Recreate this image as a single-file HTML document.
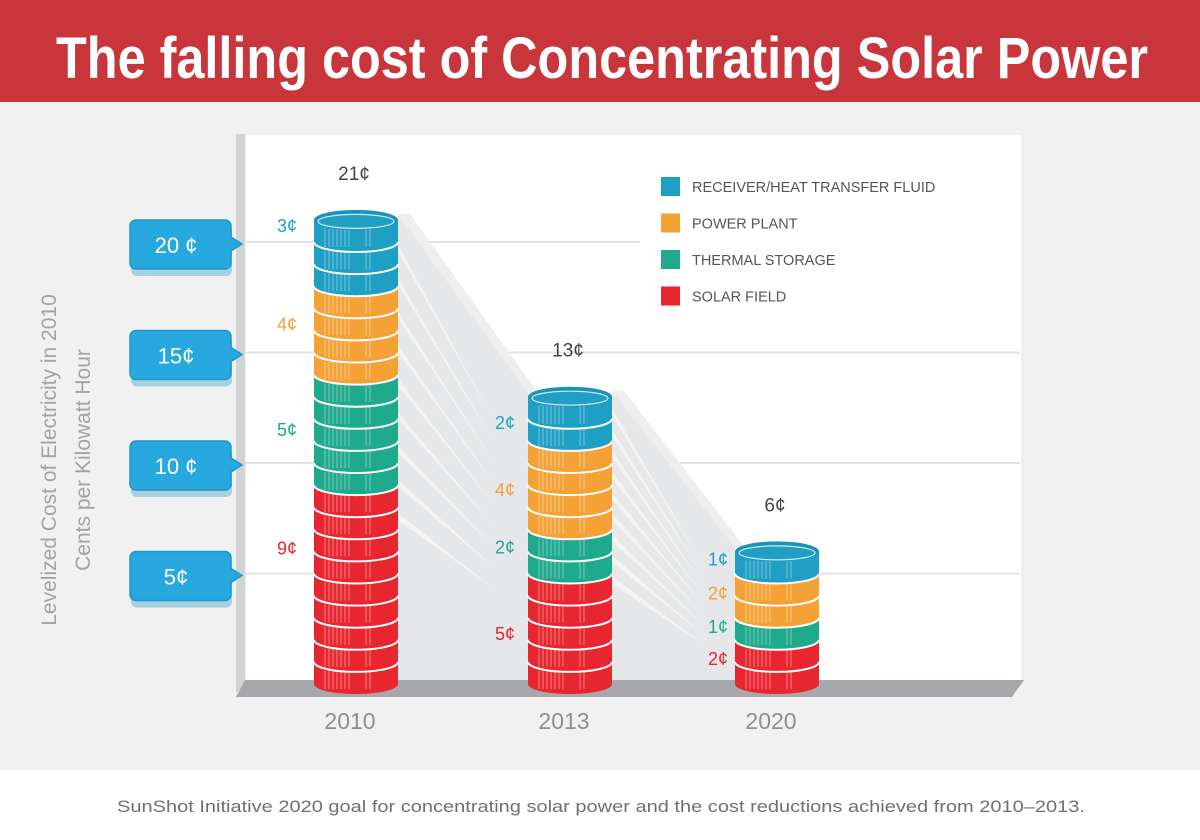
<!DOCTYPE html>
<html><head><meta charset="utf-8"><style>
html,body{margin:0;padding:0;width:1200px;height:840px;overflow:hidden;background:#fff}
text{font-family:"Liberation Sans","DejaVu Sans",sans-serif}
</style></head><body>
<svg id="chart" width="1200" height="840" viewBox="0 0 1200 840" xmlns="http://www.w3.org/2000/svg">
<rect x="0" y="0" width="1200" height="102" fill="#c8363c"/>
<text x="56" y="78" font-size="58" font-weight="bold" fill="#fff" textLength="1092" lengthAdjust="spacingAndGlyphs">The falling cost of Concentrating Solar Power</text>
<rect x="0" y="102" width="1200" height="668" fill="#f1f1f1"/>
<rect x="0" y="770" width="1200" height="70" fill="#fff"/>
<text x="601" y="812" font-size="17" fill="#707070" text-anchor="middle" textLength="968" lengthAdjust="spacingAndGlyphs">SunShot Initiative 2020 goal for concentrating solar power and the cost reductions achieved from 2010–2013.</text>
<rect x="245" y="134" width="777" height="550" fill="#fff" stroke="#e4e4e4"/>
<polygon points="236,134 245,134 245,684 236,694" fill="#d2d3d5"/>
<g id="grid"></g>
<g id="shadows"></g>
<polygon points="245,680 1024,680 1012,697 236,697" fill="#a7a8ab"/>
<g id="stacks"></g>
<g id="callouts"></g>
<g id="legend"></g>
<text transform="translate(56,460) rotate(-90)" font-size="21" fill="#a3a3a3" text-anchor="middle">Levelized Cost of Electricity in 2010</text>
<text transform="translate(90,460) rotate(-90)" font-size="21" fill="#a3a3a3" text-anchor="middle">Cents per Kilowatt Hour</text>
</svg>
<script>
const years = ["2010","2013","2020"];
const solarField = [9,5,2];
const thermalStorage = [5,2,1];
const powerPlant = [4,4,2];
const receiver = [3,2,1];
const totals = [21,13,6];
const seriesNames = ["SOLAR FIELD","THERMAL STORAGE","POWER PLANT","RECEIVER/HEAT TRANSFER FLUID"];
const yTicks = [5,10,15,20];
const yTickLabels = ["5¢","10 ¢","15¢","20 ¢"];

const colors = ["#e8262f","#1fa98d","#f4a236","#1f9fc4"];
// style-only pixel nudges for segment label placement [year][series]
const labelNudge = [[-36,0,-6,-27],[5,-4,5,4],[-3,-2,-2,-3]];
const NS="http://www.w3.org/2000/svg";
const Y0=684, PX=22.1;
function y(v){return Y0-v*PX;}
const xCenters=[356,570,777];
function x(i){return xCenters[i];}
function mk(tag,attrs,parent){const e=document.createElementNS(NS,tag);for(const k in attrs)e.setAttribute(k,attrs[k]);parent.appendChild(e);return e;}
const grid=document.getElementById('grid'),sh=document.getElementById('shadows'),st=document.getElementById('stacks'),co=document.getElementById('callouts'),lg=document.getElementById('legend');

yTicks.forEach((t,i)=>{
  const l=mk('line',{x1:245,x2:t===20?640:1020,y1:y(t),y2:y(t),stroke:'#e3e3e3','stroke-width':2},grid);
  
  
  const g=mk('g',{},co);
  
  
  const cy=y(t)+3;
  mk('rect',{x:130,y:cy-22,width:101,height:50,rx:6,fill:'#1b8fbd',opacity:0.35,transform:'translate(1,3)'},g);
  mk('path',{d:`M136,${cy-25} h89 a6,6 0 0 1 6,6 v11 l11,7 l-11,7 v12 a6,6 0 0 1 -6,6 h-89 a6,6 0 0 1 -6,-6 v-37 a6,6 0 0 1 6,-6z`,fill:'#27a9df',stroke:'#1d97c9','stroke-width':1.5},g);
  const tx=mk('text',{x:176,y:cy+8,'font-size':22,fill:'#fff','text-anchor':'middle'},g);
  tx.textContent=yTickLabels[i];
});

const R=42, RY=10;
for(let i=0;i<years.length-1;i++){
  const x1=x(i)+R, x2=x(i+1)-R, ya=y(totals[i])-6, yb=y(totals[i+1])-4;
  const p=mk('polygon',{points:`${x1},${ya} ${x2},${yb} ${x2},${Y0} ${x1},${Y0}`,fill:'#e6e7e8'},sh);
  
  
  mk('polygon',{points:`${x1},${ya} ${x1+12},${ya} ${x2+10},${yb} ${x2},${yb}`,fill:'#eeeeef'},sh);
  for(let k=1;k<=9;k++){
    const sy=ya+k*(Y0-ya)/14, ey=yb+k*(Y0-yb)/14+10;
    mk('polygon',{points:`${x1},${sy-3} ${x1+(x2-x1)*0.75},${ey} ${x1},${sy+4}`,fill:'#f4f4f4'},sh);
  }
}

const segs=[solarField,thermalStorage,powerPlant,receiver];
const labX=[297,515,728];
years.forEach((yr,i)=>{
  const g=mk('g',{},st);
  
  
  const cx=x(i);
  let base=0;
  segs.forEach((s,si)=>{
    const sg=mk('g',{},g);
    
    
    for(let c=0;c<s[i];c++){
      const v=base+c, yb=y(v), yt=y(v+1);
      mk('path',{d:`M${cx-R},${yt} V${yb} A${R},${RY} 0 0 0 ${cx+R},${yb} V${yt}Z`,fill:colors[si]},sg);
      for(let k=0;k<7;k++) mk('line',{x1:cx-31+k*4,x2:cx-31+k*4,y1:yt+RY-1,y2:yb+RY-5,stroke:'#fff','stroke-opacity':0.28,'stroke-width':1.5},sg);
      for(let k=0;k<2;k++) mk('line',{x1:cx+10+k*4,x2:cx+10+k*4,y1:yt+RY-1,y2:yb+RY-5,stroke:'#fff','stroke-opacity':0.28,'stroke-width':1.5},sg);
      if(v>0) mk('path',{d:`M${cx-R},${yb} A${R},${RY} 0 0 0 ${cx+R},${yb}`,fill:'none',stroke:'#fff','stroke-width':2},sg);
    }
    const lt=mk('text',{x:labX[i],y:(y(base)+y(base+s[i]))/2+6+labelNudge[i][si],'font-size':18,fill:colors[si],'text-anchor':'end'},g);
    lt.textContent=s[i]+'¢';
    base+=s[i];
  });
  const tc=colors[3], ty=y(totals[i]);
  const top=mk('ellipse',{cx:cx,cy:ty,rx:R,ry:RY,fill:'#1b93b8'},g);
  
  
  mk('ellipse',{cx:cx,cy:ty+1.5,rx:R-4,ry:RY-3,fill:tc,stroke:'#fff','stroke-width':1.2,'stroke-opacity':0.8},g);
  const tt=mk('text',{x:cx-2,y:ty-40,'font-size':19,fill:'#444','text-anchor':'middle'},g);
  tt.textContent=totals[i]+'¢';
  const yl=mk('text',{x:cx-6,y:729,'font-size':23,fill:'#8e8e8e','text-anchor':'middle'},g);
  
  
  yl.textContent=yr;
});

[3,2,1,0].forEach((si,k)=>{
  const g=mk('g',{},lg);
  
  
  const ly=177+k*36.5;
  mk('rect',{x:661,y:ly,width:19,height:19,fill:colors[si]},g);
  const t=mk('text',{x:692,y:ly+15,'font-size':14.5,fill:'#555'},g);
  t.textContent=seriesNames[si];
});
</script>
</body></html>
